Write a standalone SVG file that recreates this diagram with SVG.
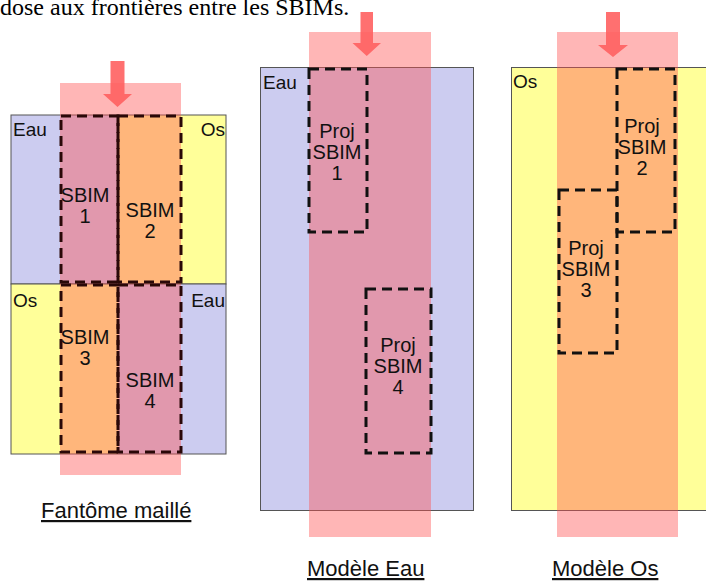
<svg xmlns="http://www.w3.org/2000/svg" width="706" height="581" viewBox="0 0 706 581">
<style>
.bg{fill:#fff}
.eau{fill:#ccccf0;stroke:#555;stroke-width:1}
.os{fill:#ffff99;stroke:#555;stroke-width:1}
.eauf{fill:#ccccf0}
.osf{fill:#ffff99}
.beam{fill:#ff5050;fill-opacity:0.42}
.arrow{fill:#ff6060;fill-opacity:0.9}
.dash{fill:none;stroke:#111;stroke-width:3;stroke-dasharray:10 6}
.dk{stroke:#2a0808}
.lbl{font-family:"Liberation Sans",Arial,sans-serif;font-size:19px;fill:#111}
.sb{font-family:"Liberation Sans",Arial,sans-serif;font-size:20px;fill:#111;text-anchor:middle}
.cap{font-family:"Liberation Sans",Arial,sans-serif;font-size:22px;fill:#111;text-decoration:underline}
.title{font-family:"Liberation Serif","Times New Roman",serif;font-size:24px;fill:#000}
</style>
<rect class="bg" x="0" y="0" width="706" height="581"/>
<g id="title"><text class="title" x="0" y="15">dose aux frontières entre les SBIMs.</text></g>

<g id="fantome">
  <rect class="eauf" x="11" y="115" width="107.5" height="169"/>
  <rect class="osf" x="118.5" y="115" width="107.5" height="169"/>
  <rect x="11" y="115" width="215" height="169" fill="none" stroke="#555"/>
  <rect class="osf" x="11" y="284" width="107.5" height="170"/>
  <rect class="eauf" x="118.5" y="284" width="107.5" height="170"/>
  <rect x="11" y="284" width="215" height="170" fill="none" stroke="#555"/>
  <rect class="beam" x="60" y="83" width="121" height="392"/>
  <polygon class="arrow" points="110.5,61 124.5,61 124.5,94 132,94 117.5,107 103,94 110.5,94"/>
  <g id="sbim1"><rect class="dash dk" x="61" y="116" width="57" height="166"/><text class="sb" x="85" y="202">SBIM</text><text class="sb" x="85" y="223">1</text></g>
  <g id="sbim2"><rect class="dash dk" x="118" y="116" width="63" height="166"/><text class="sb" x="150" y="217">SBIM</text><text class="sb" x="150" y="238">2</text></g>
  <g id="sbim3"><rect class="dash dk" x="61" y="285" width="57" height="167"/><text class="sb" x="85" y="344">SBIM</text><text class="sb" x="85" y="365">3</text></g>
  <g id="sbim4"><rect class="dash dk" x="118" y="285" width="63" height="167"/><text class="sb" x="150" y="387">SBIM</text><text class="sb" x="150" y="408">4</text></g>
  <text class="lbl" x="13" y="136">Eau</text>
  <text class="lbl" x="225" y="136" text-anchor="end">Os</text>
  <text class="lbl" x="13" y="307">Os</text>
  <text class="lbl" x="225" y="307" text-anchor="end">Eau</text>
  <text class="cap" x="41" y="518">Fantôme maillé</text>
</g>

<g id="modele-eau">
  <rect class="eau" x="260.5" y="67.5" width="213" height="443"/>
  <rect class="beam" x="309" y="32" width="122" height="505"/>
  <polygon class="arrow" points="360.5,12 373,12 373,43 381,43 366.75,56 352.5,43 360.5,43"/>
  <g id="proj-sbim1"><rect class="dash" x="309" y="69" width="58" height="163"/><text class="sb" x="337" y="138">Proj</text><text class="sb" x="337" y="159">SBIM</text><text class="sb" x="337" y="180">1</text></g>
  <g id="proj-sbim4"><rect class="dash" x="366" y="289" width="65" height="164"/><text class="sb" x="398" y="352">Proj</text><text class="sb" x="398" y="373">SBIM</text><text class="sb" x="398" y="394">4</text></g>
  <text class="lbl" x="263" y="89">Eau</text>
  <text class="cap" x="307" y="576">Modèle Eau</text>
</g>

<g id="modele-os">
  <rect class="os" x="511.5" y="67.5" width="214" height="443"/>
  <rect class="beam" x="557" y="32" width="121" height="505"/>
  <polygon class="arrow" points="606,12 620,12 620,45 628,45 613,57 598,45 606,45"/>
  <g id="proj-sbim2"><rect class="dash" x="617" y="69" width="58" height="163"/><text class="sb" x="642" y="133">Proj</text><text class="sb" x="642" y="154">SBIM</text><text class="sb" x="642" y="175">2</text></g>
  <g id="proj-sbim3"><rect class="dash" x="559" y="190" width="58" height="163"/><text class="sb" x="586" y="255">Proj</text><text class="sb" x="586" y="276">SBIM</text><text class="sb" x="586" y="297">3</text></g>
  <text class="lbl" x="513" y="88">Os</text>
  <text class="cap" x="552" y="576">Modèle Os</text>
</g>
<g id="connectors"/>
</svg>
